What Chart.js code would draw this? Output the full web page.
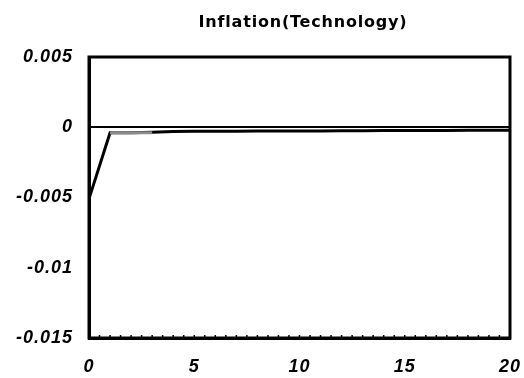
<!DOCTYPE html>
<html>
<head>
<meta charset="utf-8">
<script src="https://cdn.jsdelivr.net/npm/chart.js@4/dist/chart.umd.min.js"></script>
<style>
html,body{margin:0;padding:0;background:#fff;}
#wrap{width:524px;height:378px;}
</style>
</head>
<body>
<div id="wrap"><canvas id="c" width="524" height="378"></canvas></div>
<script>
const chartTitle = "Inflation(Technology)";
const periods = [0,1,2,3,4,5,6,7,8,9,10,11,12,13,14,15,16,17,18,19,20];
const inflationBlack = [-0.0051,-0.0004,-0.0004,-0.00036,-0.0003,-0.00029,-0.00028,-0.00028,-0.00027,-0.00027,-0.00026,-0.00026,-0.00025,-0.00025,-0.00024,-0.00024,-0.00023,-0.00023,-0.00022,-0.00022,-0.00021];
const grayPeriods = [1,2,3];
const inflationGray = [-0.0004,-0.0004,-0.0004];
const xTickValues = [0,5,10,15,20];
const yTickLabels = ["0.005","0","-0.005","-0.01","-0.015"];

const FONT = "'Liberation Sans', Arial, sans-serif";

const framePlugin = {
  id: 'frame',
  beforeDraw(chart) {
    chart.ctx.letterSpacing = '1px';
  },
  afterDraw(chart) {
    const ctx = chart.ctx;
    const a = chart.chartArea;
    const xs = chart.scales.x, ys = chart.scales.y;
    ctx.save();
    ctx.strokeStyle = '#000';
    ctx.lineWidth = 1.5;
    ctx.beginPath();
    for (let v = 0.5; v < 20; v += 0.5) {
      const px = xs.getPixelForValue(v);
      ctx.moveTo(px, a.bottom);
      ctx.lineTo(px, a.bottom - 3);
    }
    for (let v = -0.0145; v < 0.005; v += 0.0005) {
      const py = ys.getPixelForValue(v);
      ctx.moveTo(a.left, py);
      ctx.lineTo(a.left + 2, py);
    }
    ctx.stroke();
    ctx.lineWidth = 3;
    ctx.strokeRect(a.left, a.top, a.right - a.left, a.bottom - a.top);
    ctx.fillStyle = '#000';
    ctx.font = "bold 16px 'DejaVu Sans', sans-serif";
    ctx.letterSpacing = '0.8px';
    ctx.textAlign = 'center';
    ctx.textBaseline = 'middle';
    ctx.fillText(chartTitle, 303, 23);
    ctx.restore();
  }
};

new Chart(document.getElementById('c'), {
  type: 'line',
  data: {
    datasets: [
      {
        label: 'gray',
        data: grayPeriods.map((p, i) => ({x: p, y: inflationGray[i]})),
        borderColor: '#8c8c8c',
        borderWidth: 3,
        pointRadius: 0,
        tension: 0
      },
      {
        label: 'black',
        data: periods.map((p, i) => ({x: p, y: inflationBlack[i]})),
        borderColor: '#000',
        borderWidth: 3,
        pointRadius: 0,
        tension: 0
      }
    ]
  },
  options: {
    responsive: false,
    animation: false,
    devicePixelRatio: 1,
    layout: { padding: { top: 57, right: 14, left: 0, bottom: 0 } },
    plugins: { legend: { display: false }, title: { display: false }, tooltip: { enabled: false } },
    scales: {
      x: {
        type: 'linear',
        min: 0, max: 20,
        afterBuildTicks(scale) { scale.ticks = xTickValues.map(v => ({value: v})); },
        afterFit(scale) { scale.height = 40; scale.paddingLeft = 0; scale.paddingRight = 0; },
        grid: { display: false, drawTicks: false },
        border: { display: true, color: '#000', width: 3 },
        ticks: {
          padding: 18,
          color: '#000',
          font: { family: FONT, size: 18, weight: 'bold', style: 'italic' },
          maxRotation: 0
        }
      },
      y: {
        min: -0.015, max: 0.005,
        afterBuildTicks(scale) { scale.ticks = yTickLabels.map(s => ({value: parseFloat(s)})); },
        afterFit(scale) { scale.width = 89; scale.paddingTop = 0; scale.paddingBottom = 0; },
        grid: {
          drawTicks: false,
          color: ctx => (ctx.tick && Math.abs(ctx.tick.value) < 1e-12) ? '#000' : 'rgba(0,0,0,0)',
          lineWidth: ctx => (ctx.tick && Math.abs(ctx.tick.value) < 1e-12) ? 2 : 0
        },
        border: { display: true, color: '#000', width: 3 },
        ticks: {
          padding: 16,
          color: '#000',
          font: { family: FONT, size: 18, weight: 'bold', style: 'italic' },
          callback: (v) => { const i = yTickLabels.findIndex(s => Math.abs(parseFloat(s) - v) < 1e-9); return i >= 0 ? yTickLabels[i] : ''; }
        }
      }
    }
  },
  plugins: [framePlugin]
});
</script>
</body>
</html>
